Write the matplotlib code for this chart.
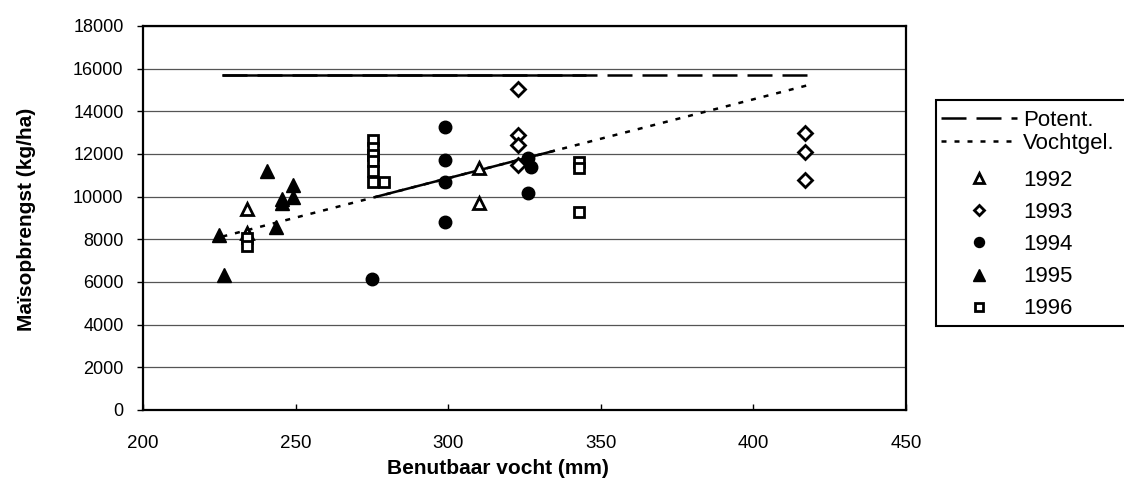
import numpy as np
import matplotlib.pyplot as plt
from matplotlib.patches import Rectangle

plt.rcParams['font.family'] = ['Liberation Sans', 'DejaVu Sans']

# waarnemingen per jaar: benutbaar vocht (mm) en maisopbrengst (kg/ha)
x_1992 = [234, 234, 310, 310]
y_1992 = [9400, 8300, 11350, 9720]

x_1993 = [323, 323, 323, 323, 417, 417, 417]
y_1993 = [15050, 12900, 12430, 11500, 13000, 12080, 10790]

x_1994 = [299, 299, 299, 299, 275, 326, 327, 326]
y_1994 = [13280, 11720, 10710, 8830, 6140, 11800, 11400, 10160]

x_1995 = [240.5, 249, 249, 245.5, 245.5, 225, 243.5, 226.5]
y_1995 = [11180, 10550, 10000, 9900, 9700, 8210, 8600, 6340]

x_1996 = [275.5, 275.5, 275.5, 275.5, 275.5, 275.5, 279, 343, 343, 343, 234, 234]
y_1996 = [12650, 12300, 11950, 11650, 11200, 10700, 10700, 11640, 11340, 9300, 8050, 7700]

# potentiele opbrengst en vochtgelimiteerde opbrengst
pot_x = [226, 418]
pot_y = [15700, 15700]
pot_meet_x = [226, 345]
pot_meet_y = [15700, 15700]

vocht_x = [226, 418]
vocht_y = [8130, 15230]
vocht_meet_x = [276, 335]
vocht_meet_y = [9980, 12160]

W, H = 1124, 488
fig = plt.figure(figsize=(W / 100, H / 100), dpi=100)
ax = fig.add_axes([143 / W, 1 - 410 / H, 763 / W, 384 / H])

ax.set_xlim(200, 450)
ax.set_ylim(0, 18000)
ax.set_xticks(np.arange(200, 451, 50))
ax.set_yticks(np.arange(0, 18001, 2000))
ax.yaxis.grid(True, color='#555555', linewidth=0.9)
ax.set_axisbelow(True)
for s in ax.spines.values():
    s.set_linewidth(1.6)
    s.set_color('black')
ax.tick_params(axis='x', direction='in', length=4, width=1, labelsize=13.5, pad=18)
ax.tick_params(axis='y', direction='out', length=4, width=1, labelsize=13, pad=10)

# lijnen
lp, = ax.plot(pot_x, pot_y, color='black', linewidth=1.8, dashes=(10, 4))
ax.plot(pot_meet_x, pot_meet_y, color='black', linewidth=1.8, solid_capstyle='butt')
lv, = ax.plot(vocht_x, vocht_y, color='black', linewidth=1.8, dashes=(2, 3.2))
ax.plot(vocht_meet_x, vocht_meet_y, color='black', linewidth=1.8, solid_capstyle='butt')

# punten
m92, = ax.plot(x_1992, y_1992, linestyle='none', marker='^', markersize=8.5,
               markerfacecolor='white', markeredgecolor='black', markeredgewidth=2)
m93, = ax.plot(x_1993, y_1993, linestyle='none', marker='D', markersize=7,
               markerfacecolor='white', markeredgecolor='black', markeredgewidth=2)
m96, = ax.plot(x_1996, y_1996, linestyle='none', marker='s', markersize=7.5,
               markerfacecolor='white', markeredgecolor='black', markeredgewidth=2)
m94, = ax.plot(x_1994, y_1994, linestyle='none', marker='o', markersize=9,
               color='black')
m95, = ax.plot(x_1995, y_1995, linestyle='none', marker='^', markersize=10,
               color='black')

fig.text(498 / W, 1 - 468 / H, 'Benutbaar vocht (mm)', fontsize=15,
         fontweight='bold', ha='center', va='center')
fig.text(27 / W, 1 - 219 / H, 'Maïsopbrengst (kg/ha)', fontsize=15,
         fontweight='bold', ha='center', va='center', rotation=90)

# legenda: kader met twee blokken (lijnen en jaren)
fig.patches.append(Rectangle((936 / W, 1 - 326 / H), 200 / W, 226 / H,
                             transform=fig.transFigure, facecolor='white',
                             edgecolor='black', linewidth=1.5, zorder=1))
common = dict(loc='upper left', fontsize=16, frameon=False, handlelength=3.4,
              handletextpad=0.3, borderpad=0, borderaxespad=0)
leg1 = fig.legend([lp, lv], ['Potent.', 'Vochtgel.'],
                  bbox_to_anchor=(941 / W, 1 - 110 / H), labelspacing=0.1, **common)
leg2 = fig.legend([m92, m93, m94, m95, m96], ['1992', '1993', '1994', '1995', '1996'],
                  bbox_to_anchor=(941 / W, 1 - 170 / H), labelspacing=0.5,
                  markerscale=0.8, **common)
leg1.set_zorder(3)
leg2.set_zorder(3)

fig.savefig('out.png', dpi=100)
